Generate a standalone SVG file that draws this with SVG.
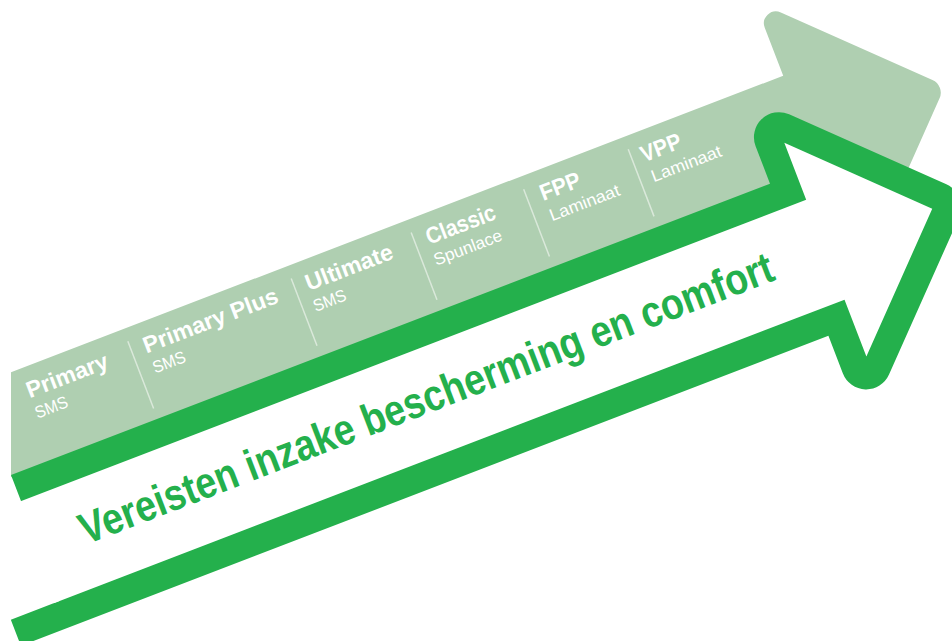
<svg xmlns="http://www.w3.org/2000/svg" width="952" height="641" viewBox="0 0 952 641">
<defs>
<clipPath id="clipL"><rect x="11" y="0" width="941" height="641"/></clipPath>
<style>
.name{font-family:"Liberation Sans",Arial,sans-serif;font-weight:bold;font-size:23px;fill:#ffffff}
.sub{font-family:"Liberation Sans",Arial,sans-serif;font-size:17px;fill:#ffffff}
.div{stroke:#e2eee2;stroke-width:1.5;opacity:0.85}
.title{font-family:"Liberation Sans",Arial,sans-serif;font-weight:bold;font-size:44px;fill:#24B04C}
</style>
</defs>
<rect width="952" height="641" fill="#ffffff"/>
<g id="light-arrow" clip-path="url(#clipL)">
<path transform="translate(11,475) rotate(-21)" fill="#AFCFB1" d="M-60,-96 L864,-96 L864,-147.5 A12,12 0 0 1 884.5,-156 L1001.85,-38.65 A14,14 0 0 1 1001.85,-18.85 L940,43 L780,43 L780,2 L-60,2 Z"/>
</g>
<g id="outline-arrow" transform="translate(11,475) rotate(-21)">
<path fill="#24B04C" d="M0,0 L813,0 L813,-40.15 A25,25 0 0 1 855.68,-57.83 L977.4,63.87 A25,25 0 0 1 977.4,99.23 L855.68,220.9 A25,25 0 0 1 813,203.15 L813,163 L-52,163 L-52,135 L0,135 Z"/>
<path fill="#ffffff" d="M-6,28 L841,28 L841,-33 L955.5,81.5 L841,196 L841,135 L-6,135 Z"/>
</g>
<g id="connectors" transform="translate(11,475) rotate(-21)">
<line class="div" x1="157" y1="-83" x2="157" y2="-11"/>
<line class="div" x1="332" y1="-83" x2="332" y2="-11"/>
<line class="div" x1="460.5" y1="-83" x2="460.5" y2="-11"/>
<line class="div" x1="581" y1="-83" x2="581" y2="-11"/>
<line class="div" x1="693" y1="-83" x2="693" y2="-11"/>
</g>
<g transform="translate(11,475) rotate(-21)">
<g id="primary"><text class="name" x="45" y="-65" textLength="86" lengthAdjust="spacingAndGlyphs">Primary</text><text class="sub" x="45" y="-43" textLength="34" lengthAdjust="spacingAndGlyphs">SMS</text></g>
<g id="primary-plus"><text class="name" x="170" y="-65" textLength="143" lengthAdjust="spacingAndGlyphs">Primary Plus</text><text class="sub" x="171" y="-43" textLength="34" lengthAdjust="spacingAndGlyphs">SMS</text></g>
<g id="ultimate"><text class="name" x="344" y="-65" textLength="92" lengthAdjust="spacingAndGlyphs">Ultimate</text><text class="sub" x="343" y="-43" textLength="34" lengthAdjust="spacingAndGlyphs">SMS</text></g>
<g id="classic"><text class="name" x="473" y="-65" textLength="73" lengthAdjust="spacingAndGlyphs">Classic</text><text class="sub" x="472" y="-43" textLength="72" lengthAdjust="spacingAndGlyphs">Spunlace</text></g>
<g id="fpp"><text class="name" x="595" y="-65" textLength="42" lengthAdjust="spacingAndGlyphs">FPP</text><text class="sub" x="596" y="-43" textLength="74" lengthAdjust="spacingAndGlyphs">Laminaat</text></g>
<g id="vpp"><text class="name" x="703" y="-65" textLength="42" lengthAdjust="spacingAndGlyphs">VPP</text><text class="sub" x="705" y="-43" textLength="74" lengthAdjust="spacingAndGlyphs">Laminaat</text></g>
<g id="title"><text class="title" x="45" y="92" textLength="740" lengthAdjust="spacingAndGlyphs">Vereisten inzake bescherming en comfort</text></g>
</g>
</svg>
